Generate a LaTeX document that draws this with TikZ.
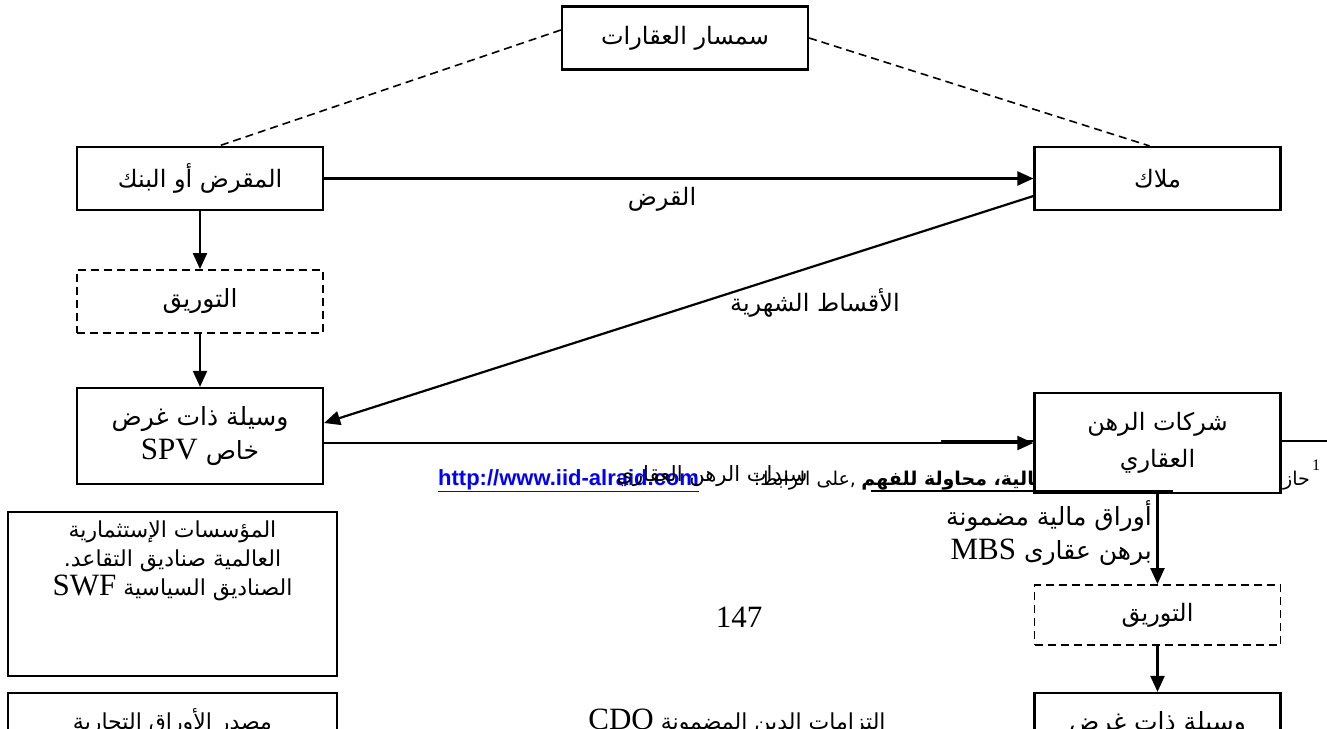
\documentclass[tikz,border=0pt]{standalone}
\usepackage{fontspec}
\setmainfont{Liberation Serif}
\newfontfamily\arabicfont[Script=Arabic]{DejaVu Sans}
\newfontfamily\urlfont{Liberation Sans}
\TeXXeTstate=1
\usetikzlibrary{arrows.meta,calc}
\newcommand{\AR}[1]{{\arabicfont\beginR #1\endR}}
\newcommand{\LT}[1]{\beginL{\rmfamily\fontsize{31pt}{33pt}\selectfont #1}\endL}
\newcommand{\fsA}{\fontsize{24pt}{36pt}\selectfont}
\newcommand{\fsB}{\fontsize{25pt}{34pt}\selectfont}
\newcommand{\fsC}{\fontsize{22pt}{29pt}\selectfont}
\newcommand{\fsL}{\fontsize{31pt}{33pt}\selectfont}
\newcommand{\fsF}{\fontsize{19pt}{22pt}\selectfont}
\tikzset{
  box/.style={draw, line width=2.2pt, fill=white, minimum width=246pt, minimum height=63pt, inner sep=0pt, align=center, font=\fsA},
  dbox/.style={box, line width=1.8pt, dash pattern=on 8pt off 5pt},
  arr/.style={line width=2.2pt, -{Triangle[length=16pt,width=14pt]}},
  dl/.style={line width=1.6pt, dash pattern=on 8pt off 5pt},
  lbl/.style={inner sep=0pt, align=center},
}
\begin{document}
\begin{tikzpicture}[x=1pt,y=-1pt]
\clip (0,0) rectangle (1327,728);
\fill[white] (0,0) rectangle (1327,728);

% top part
\node[box] (broker) at (685,38) {\AR{سمسار العقارات}};
\node[box] (lender) at (200,178.5) {\AR{المقرض أو البنك}};
\node[box] (owners) at (1157.5,178.5) {\AR{ملاك}};
\node[dbox, font=\fsB] (tas1) at (200,301.5) {\AR{التوريق}};
\node[box, font=\fsB, minimum height=96pt] (spv1) at (200,436) {\AR{وسيلة ذات غرض}\\ \AR{خاص \LT{SPV}}};

\draw[dl] ([yshift=8pt]broker.west) -- ([xshift=19pt]lender.north);
\draw[dl] (broker.east) -- ([xshift=-8pt]owners.north);
\draw[arr] (lender.east) -- (owners.west);
\node[lbl, font=\fsA] (loan) at (662,199) {\AR{القرض}};
\draw[arr] (lender.south) -- (tas1.north);
\draw[arr] (tas1.south) -- (spv1.north);
\draw[arr] ([yshift=-17.5pt]owners.west) -- ([yshift=13pt]spv1.east);
\node[lbl, font=\fsA] (inst) at (815,303) {\AR{الأقساط الشهرية}};

% footnote (overlapping text)
\node[lbl, anchor=base west, font=\urlfont\bfseries\fontsize{22pt}{24pt}\selectfont, text=blue] (url) at (438,485) {\underline{http://www.iid-alraid.com}};
\node[lbl, anchor=base east, font=\fsF] (fn1) at (1310,485) {\AR{حازم الببلاوي،}};
\node[lbl, anchor=base east, font=\fsF\bfseries] (fn2) at (1062,485) {\AR{الحالية، محاولة للفهم}};
\node[lbl, anchor=base east, font=\fsF] (fn3) at ([xshift=-5pt]fn2.base west) {\AR{,على الرابط:}};
\node[lbl, anchor=base, font=\fontsize{16pt}{17pt}\selectfont] (fnmark) at (1316,470) {1};
\node[lbl, font=\fontsize{21pt}{24pt}\selectfont] (bonds) at (712,476) {\AR{سندات الرهن العقاري}};
\draw[line width=2.2pt] (941,441) -- (1327,441);

\node[box, font=\fontsize{24pt}{37pt}\selectfont, minimum height=100pt] (mort) at (1157.5,443) {\AR{شركات الرهن}\\ \AR{العقاري}};
\draw[arr] (spv1.east |- mort.west) -- (mort.west);
\draw[line width=2.5pt] (871,491) -- (1173,491);

% right lower column
\node[dbox, minimum height=60pt] (tas2) at (1157.5,615) {\AR{التوريق}};
\node[box, font=\fsB, minimum height=96pt] (spv2) at (1157.5,741) {\AR{وسيلة ذات غرض}\\ \AR{خاص \LT{SPV}}};
\draw[arr] (mort.south) -- (tas2.north);
\draw[arr] (tas2.south) -- (spv2.north);
\node[lbl, anchor=east, font=\fsB, align=right] (mbs) at (1152,533) {\AR{أوراق مالية مضمونة}\\ \AR{برهن عقارى \LT{MBS}}};

% left lower column
\node[box, minimum width=329pt, minimum height=164pt] (inv) at (172.5,594) {};
\node[lbl, font=\fsC] (invtxt) at (172.5,561) {\AR{المؤسسات الإستثمارية}\\ \AR{العالمية صناديق التقاعد.}\\ \AR{الصناديق السياسية \LT{SWF}}};
\node[box, minimum width=329pt, minimum height=164pt] (cp) at (172.5,775) {};
\node[lbl, font=\fsC] (cptxt) at (172.5,722) {\AR{مصدر  الأوراق التجارية}};

% middle texts
\node[lbl, font=\fsL] (page) at (739,617) {147};
\node[lbl, font=\fsC] (cdo) at (737,722) {\AR{التزامات الدين المضمونة \LT{CDO}}};
\end{tikzpicture}
\end{document}
